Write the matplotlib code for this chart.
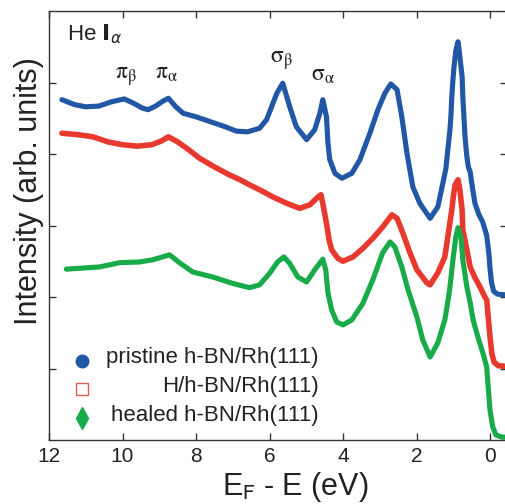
import matplotlib
matplotlib.use("Agg")
import matplotlib.pyplot as plt

plt.rcParams['font.family'] = ['Liberation Sans', 'DejaVu Sans']

# Photoemission spectra: binding energy (eV) and intensity (arb. units, offset)
energy_pristine = [11.65, 11.3, 11.0, 10.65, 10.3, 9.95, 9.7, 9.45, 9.3, 9.1,
                   8.9, 8.75, 8.55, 8.35, 8.0, 7.6, 7.2, 6.9, 6.6, 6.4,
                   6.27, 6.08, 5.8, 5.64, 5.45, 5.27, 4.99, 4.77, 4.63, 4.55,
                   4.45, 4.41, 4.36, 4.22, 4.03, 3.76, 3.54, 3.27, 3.05, 2.86,
                   2.7, 2.53, 2.4, 2.26, 2.1, 1.91, 1.63, 1.42, 1.28, 1.2,
                   1.14, 1.09, 1.06, 1.04, 1.01, 0.98, 0.93, 0.87, 0.82, 0.76,
                   0.74, 0.71, 0.68, 0.63, 0.59, 0.54, 0.47, 0.41, 0.3, 0.2,
                   0.09, 0.03, 0.0, -0.04, -0.1, -0.2, -0.43]
intensity_pristine = [4.76, 4.69, 4.66, 4.67, 4.73, 4.77, 4.71, 4.64, 4.62, 4.67,
                      4.74, 4.78, 4.66, 4.57, 4.52, 4.45, 4.38, 4.32, 4.31, 4.34,
                      4.36, 4.48, 4.85, 4.99, 4.66, 4.38, 4.2, 4.34, 4.57, 4.76,
                      4.52, 4.15, 3.92, 3.73, 3.66, 3.73, 3.92, 4.29, 4.62, 4.85,
                      4.98, 4.9, 4.52, 4.01, 3.54, 3.31, 3.1, 3.26, 3.6, 3.8,
                      4.1, 4.34, 4.57, 4.8, 5.03, 5.22, 5.45, 5.57, 5.36, 5.08,
                      4.8, 4.52, 4.24, 3.96, 3.82, 3.75, 3.5, 3.31, 3.15, 3.05,
                      2.86, 2.6, 2.4, 2.2, 2.08, 2.04, 2.03]

energy_h = [11.65, 11.2, 10.8, 10.4, 10.0, 9.6, 9.2, 8.95, 8.75, 8.5,
            8.2, 7.9, 7.5, 7.1, 6.8, 6.55, 6.27, 5.91, 5.53, 5.18,
            4.9, 4.68, 4.6, 4.55, 4.45, 4.38, 4.31, 4.14, 4.0, 3.73,
            3.46, 3.19, 2.92, 2.67, 2.53, 2.37, 2.18, 1.99, 1.72, 1.63,
            1.42, 1.23, 1.12, 1.04, 1.0, 0.95, 0.87, 0.82, 0.76, 0.74,
            0.63, 0.54, 0.41, 0.27, 0.14, 0.09, 0.05, 0.0, -0.05, -0.11,
            -0.22, -0.43]
intensity_h = [4.29, 4.27, 4.24, 4.17, 4.13, 4.11, 4.13, 4.18, 4.24, 4.17,
               4.06, 3.94, 3.82, 3.71, 3.64, 3.57, 3.5, 3.4, 3.31, 3.24,
               3.29, 3.4, 3.43, 3.31, 3.03, 2.8, 2.66, 2.54, 2.5, 2.56,
               2.68, 2.82, 2.98, 3.15, 3.1, 2.89, 2.62, 2.38, 2.2, 2.17,
               2.34, 2.56, 2.94, 3.22, 3.4, 3.57, 3.64, 3.5, 3.22, 2.94,
               2.66, 2.42, 2.27, 2.14, 2.0, 1.96, 1.72, 1.44, 1.21, 1.09,
               1.04, 1.03]

energy_healed = [11.53, 10.63, 10.08, 9.54, 9.18, 8.72, 8.45, 8.09, 7.55, 7.0,
                 6.54, 6.27, 6.0, 5.78, 5.61, 5.45, 5.23, 4.99, 4.77, 4.55,
                 4.47, 4.41, 4.31, 4.17, 4.0, 3.76, 3.46, 3.19, 2.92, 2.72,
                 2.59, 2.4, 2.23, 1.99, 1.83, 1.63, 1.42, 1.23, 1.14, 1.09,
                 1.0, 0.93, 0.87, 0.79, 0.74, 0.63, 0.54, 0.46, 0.33, 0.19,
                 0.09, 0.05, 0.0, -0.07, -0.16, -0.33, -0.43]
intensity_healed = [2.39, 2.42, 2.48, 2.49, 2.52, 2.59, 2.48, 2.35, 2.28, 2.19,
                    2.13, 2.17, 2.33, 2.49, 2.56, 2.47, 2.28, 2.21, 2.38, 2.53,
                    2.38, 2.06, 1.82, 1.65, 1.61, 1.68, 1.91, 2.24, 2.62, 2.77,
                    2.7, 2.42, 2.1, 1.72, 1.4, 1.16, 1.36, 1.68, 1.96, 2.14,
                    2.56, 2.84, 2.97, 2.84, 2.52, 2.14, 1.92, 1.68, 1.44, 1.21,
                    1.02, 0.74, 0.42, 0.19, 0.07, 0.04, 0.04]

series_labels = ['pristine h-BN/Rh(111)', 'H/h-BN/Rh(111)', 'healed h-BN/Rh(111)']
xticks = [0, 2, 4, 6, 8, 10, 12]
yticks = [1, 2, 3, 4, 5]

# Peak annotations: (text, energy, intensity)
peak_labels = [(r'$\mathrm{\pi_{\beta}}$', 9.92, 5.06),
               (r'$\mathrm{\pi_{\alpha}}$', 8.80, 5.06),
               (r'$\mathrm{\sigma_{\beta}}$', 5.67, 5.27),
               (r'$\mathrm{\sigma_{\alpha}}$', 4.55, 5.03)]

BLUE = '#2257a6'
RED = '#e8392f'
GREEN = '#19aa4a'

fig = plt.figure(figsize=(5.06, 5.04), dpi=100)
ax = fig.add_axes([49 / 506, 64 / 504, 0.905, 429 / 504])

ax.plot(energy_pristine, intensity_pristine, color=BLUE, lw=3.7,
        solid_capstyle='round', solid_joinstyle='round')
ax.plot(energy_h, intensity_h, color=RED, lw=4.0,
        solid_capstyle='round', solid_joinstyle='round')
ax.plot(energy_healed, intensity_healed, color=GREEN, lw=3.7,
        solid_capstyle='round', solid_joinstyle='round')

ax.set_xlim(12, -0.46)
ax.set_ylim(0, 6)
ax.set_xticks(xticks)
ax.set_xticklabels([str(t) for t in xticks])
ax.set_yticks(yticks)
ax.set_yticklabels([])

for s in ax.spines.values():
    s.set_color('#333333')
    s.set_linewidth(1.0)
ax.tick_params(direction='in', length=5, width=1.0, color='#333333',
               top=True, right=True, labelsize=15, pad=5, labelcolor='#222222')

ax.set_ylabel('Intensity (arb. units)', fontsize=22, color='#222222')
ax.yaxis.label.set(rotation_mode='default', va='center', ha='center')
ax.yaxis.set_label_coords(-0.044, 0.58)

ax.set_xlabel(r'E$_{\mathrm{F}}$ - E (eV)', fontsize=22, color='#222222',
              math_fontfamily='stixsans')
ax.xaxis.label.set(va='center', ha='center')
ax.xaxis.set_label_coords(0.537, -0.11)

ax.text(0.039, 0.932, r'He $\mathbf{I}_{\alpha}$', transform=ax.transAxes,
        fontsize=16, va='baseline', ha='left', color='#222222',
        math_fontfamily='dejavusans')

for txt, e, y in peak_labels:
    ax.text(e, y, txt, fontsize=17, ha='center', va='baseline',
            color='#222222', math_fontfamily='stix')

# Legend with right-aligned labels
marker_styles = [dict(marker='o', color=BLUE, ms=9, mec=BLUE),
                 dict(marker='s', color='none', ms=8.5, mec='#e8584e', mew=1.0),
                 dict(marker='d', color=GREEN, ms=11, mec=GREEN)]
marker_y = [0.184, 0.119, 0.051]
text_y = [0.193, 0.124, 0.058]
for lab, st, my, ty in zip(series_labels, marker_styles, marker_y, text_y):
    ax.plot([0.072], [my], transform=ax.transAxes, ls='none', **st)
    ax.text(0.589, ty, lab, transform=ax.transAxes, fontsize=16,
            ha='right', va='center', color='#222222')

fig.savefig('out.png', dpi=100)
